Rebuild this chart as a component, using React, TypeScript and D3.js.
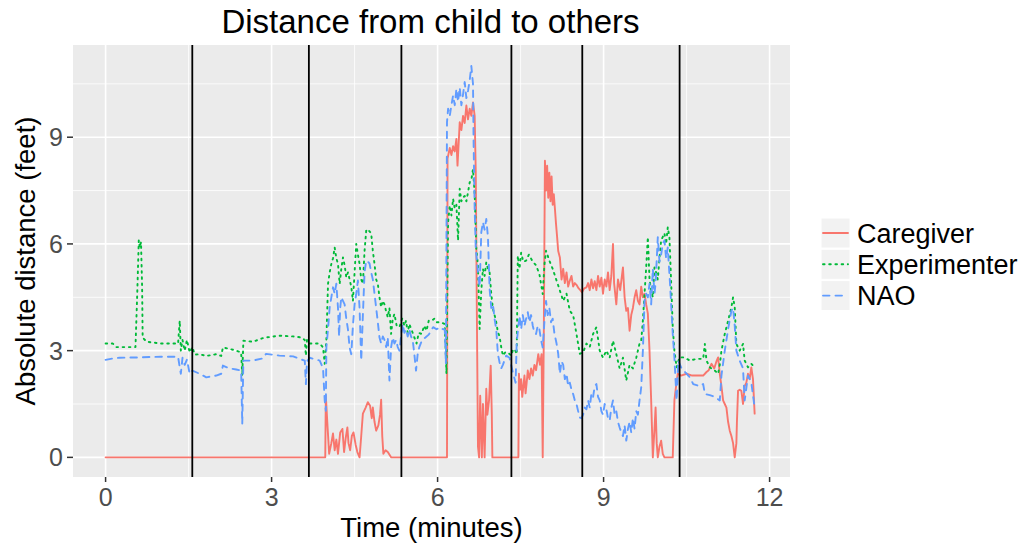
import React from "react";
import * as d3 from "d3";

// ---- data (time in minutes, distance in feet) ----
const caregiver: [number, number][] = [
  [0,0],[3.97,0],[3.98,1.73],[4.01,0.9],[4.04,0.1],[4.08,0.4],[4.11,0.67],[4.14,0.2],[4.17,0.5],[4.20,0.1],[4.24,0.7],[4.28,0.8],[4.31,0.15],[4.34,0.55],[4.37,0.84],[4.39,0.4],[4.42,0.2],[4.45,0.6],[4.48,0.7],[4.52,0.35],[4.55,0.15],[4.59,0.0],[4.62,0.6],[4.65,1.23],[4.70,1.4],[4.74,1.55],[4.78,1.45],[4.81,1.1],[4.83,1.4],[4.86,1.0],[4.89,0.75],[4.93,0.9],[4.96,1.2],[4.98,1.62],[5.00,0.6],[5.02,0.1],[5.06,0.2],[5.10,0.15],[5.16,0.0],
  [6.17,0],[6.18,8.4],[6.22,8.7],[6.25,8.5],[6.28,8.75],[6.31,8.6],[6.34,8.95],[6.36,8.2],[6.38,8.8],[6.40,9.42],[6.43,9.2],[6.46,9.6],[6.49,9.4],[6.52,9.89],[6.55,9.5],[6.58,9.8],[6.61,9.6],[6.64,9.98],[6.67,9.6],[6.69,8.0],[6.71,4.0],[6.73,0.3],[6.75,0],[6.77,1.73],[6.80,0],[6.82,1.5],[6.85,0],[6.88,1.93],[6.90,1.2],[6.93,1.6],[6.96,2.58],[6.98,1.2],[6.99,0],
  [7.46,0],[7.47,2.35],[7.49,1.9],[7.51,2.2],[7.53,1.7],[7.55,2.0],[7.57,2.3],[7.59,1.8],[7.61,2.1],[7.63,2.44],[7.66,2.2],[7.69,2.5],[7.72,2.3],[7.75,2.6],[7.78,2.45],[7.82,2.9],[7.85,2.6],[7.88,2.9],[7.90,0.0],[7.92,3.5],[7.94,8.34],[7.96,7.5],[7.98,8.2],[8.00,7.3],[8.02,8.0],[8.04,7.2],[8.06,7.9],[8.08,7.1],[8.10,7.4],[8.12,7.0],[8.14,6.57],[8.16,6.2],[8.18,5.8],[8.21,5.62],[8.24,5.0],[8.27,5.3],[8.30,4.9],[8.33,5.2],[8.36,4.8],[8.39,4.97],[8.42,5.1],[8.45,4.8],[8.48,4.9],[8.51,4.85],[8.55,4.75],[8.58,4.7],[8.61,4.64],[8.65,4.75],[8.69,4.78],[8.72,4.9],[8.75,4.7],[8.78,5.0],[8.81,4.75],[8.84,4.95],[8.87,4.7],[8.90,5.1],[8.93,4.8],[8.96,5.05],[8.99,4.6],[9.02,5.0],[9.05,4.8],[9.08,5.2],[9.11,4.7],[9.14,5.1],[9.17,6.0],[9.19,4.9],[9.23,4.3],[9.26,5.0],[9.30,4.7],[9.35,5.34],[9.38,4.5],[9.41,4.12],[9.44,4.2],[9.47,3.56],[9.50,4.0],[9.53,4.2],[9.56,4.5],[9.59,4.7],[9.62,4.4],[9.65,4.3],[9.68,4.8],[9.71,4.5],[9.74,4.6],[9.77,4.3],[9.80,4.04],[9.83,3.0],[9.86,1.6],[9.89,0],[9.92,0.8],[9.94,1.4],[9.96,0.4],[9.98,0],[10.01,0.3],[10.04,0.47],[10.07,0.1],[10.10,0],
  [10.25,0],[10.28,1.6],[10.31,2.0],[10.34,2.35],[10.40,2.3],[10.50,2.35],[10.60,2.3],[10.70,2.3],[10.80,2.3],[10.86,2.4],[10.90,2.45],[10.95,2.63],[11.00,2.5],[11.04,2.7],[11.07,2.81],[11.10,2.35],[11.13,2.0],[11.16,1.6],[11.19,1.5],[11.22,1.4],[11.25,1.0],[11.28,0.75],[11.31,0.6],[11.34,0.4],[11.37,0],[11.40,0.4],[11.41,1.0],[11.43,1.87],[11.46,1.9],[11.49,1.87],[11.52,1.5],[11.55,2.0],[11.58,2.1],[11.61,2.35],[11.64,2.2],[11.67,2.53],[11.70,2.2],[11.73,1.23],
];

const experimenter: [number, number][] = [
  [0,3.2],[0.13,3.2],[0.19,3.1],[0.35,3.1],[0.54,3.1],[0.57,4.5],[0.60,6.1],[0.62,5.9],[0.64,6.05],[0.66,4.8],[0.67,3.37],[0.74,3.25],[1.0,3.2],[1.31,3.2],[1.34,3.84],[1.36,3.0],[1.39,3.3],[1.43,3.0],[1.47,3.3],[1.52,2.95],[1.57,3.1],[1.61,2.89],[1.70,2.9],[1.82,2.85],[2.00,2.9],[2.09,2.85],[2.12,3.09],[2.24,3.05],[2.36,3.0],[2.45,2.95],[2.47,2.3],[2.49,3.28],[2.66,3.25],[2.84,3.35],[2.90,3.37],[3.14,3.42],[3.39,3.4],[3.54,3.37],[3.60,3.3],[3.62,2.86],[3.64,3.3],[3.69,3.2],[3.87,3.2],[3.93,3.09],[3.96,2.63],[3.99,3.3],
  [4.02,4.88],[4.05,5.2],[4.08,5.44],[4.11,5.6],[4.14,5.9],[4.17,5.6],[4.20,5.44],[4.23,4.88],[4.26,5.3],[4.29,5.62],[4.32,5.4],[4.35,5.06],[4.38,5.2],[4.41,5.0],[4.44,4.8],[4.47,4.4],[4.50,5.2],[4.53,6.0],[4.56,5.7],[4.59,5.44],[4.62,5.0],[4.65,4.88],[4.68,5.8],[4.71,6.37],[4.74,6.42],[4.77,6.35],[4.80,6.3],[4.83,5.8],[4.86,5.44],[4.89,5.0],[4.92,4.88],[4.95,4.5],[4.98,4.22],[5.01,4.4],[5.04,4.3],[5.07,4.1],[5.10,3.94],[5.13,4.2],[5.16,3.47],[5.19,3.9],[5.22,4.03],[5.26,3.7],[5.31,3.66],[5.36,3.9],[5.40,3.7],[5.43,3.84],[5.46,3.5],[5.49,3.75],[5.55,3.5],[5.62,3.2],[5.66,3.5],[5.71,3.47],[5.76,3.7],[5.80,3.56],[5.84,3.84],[5.89,3.84],[5.94,3.9],[5.98,3.8],[6.05,3.8],[6.13,3.75],[6.16,2.35],
  [6.19,6.61],[6.22,7.08],[6.25,6.8],[6.28,7.27],[6.31,7.0],[6.34,7.1],[6.37,6.1],[6.40,7.55],[6.43,7.2],[6.46,7.3],[6.49,7.35],[6.52,7.2],[6.55,7.45],[6.58,7.73],[6.61,7.8],[6.64,8.1],[6.67,7.4],[6.70,5.86],[6.73,5.4],[6.76,3.61],[6.79,4.7],[6.82,5.3],[6.85,5.1],[6.88,5.48],[6.91,5.3],[6.94,5.2],[6.97,4.6],[7.00,4.17],[7.03,4.0],[7.06,3.8],[7.09,3.52],[7.12,3.4],[7.15,3.1],[7.18,2.86],[7.22,2.95],[7.27,2.95],[7.33,2.86],[7.36,3.0],[7.39,3.05],[7.43,2.9],
  [7.45,5.67],[7.48,5.3],[7.51,5.75],[7.55,5.5],[7.60,5.53],[7.65,5.7],[7.72,5.5],[7.78,5.4],[7.84,5.15],[7.90,4.59],[7.93,5.4],[7.96,5.81],[8.02,5.53],[8.08,5.3],[8.15,4.97],[8.21,4.69],[8.27,4.4],[8.33,4.6],[8.39,4.12],[8.45,4.0],[8.51,3.47],[8.57,2.91],[8.63,2.95],[8.69,3.2],[8.75,3.1],[8.81,3.47],[8.87,3.66],[8.93,3.0],[8.99,2.8],[9.05,3.0],[9.11,2.8],[9.17,3.28],[9.23,2.9],[9.29,2.5],[9.35,2.8],[9.41,2.16],[9.47,2.6],[9.53,2.5],[9.59,2.8],[9.65,3.2],[9.68,3.28],[9.71,3.84],[9.74,4.6],[9.77,5.34],[9.80,6.19],[9.83,5.0],[9.86,4.7],[9.89,4.5],[9.92,5.34],[9.95,5.2],[9.98,5.0],[10.01,5.6],[10.04,6.1],[10.07,6.2],[10.10,6.3],[10.13,6.0],[10.16,6.47],[10.19,6.19],[10.22,4.97],[10.25,3.66],[10.28,3.0],[10.32,2.53],
  [10.37,2.81],[10.46,2.81],[10.56,2.72],[10.68,2.77],[10.80,2.77],[10.83,3.19],[10.86,2.72],[10.92,2.53],[11.01,2.44],[11.07,2.35],[11.10,2.6],[11.13,3.0],[11.19,3.47],[11.25,3.84],[11.31,4.22],[11.34,4.5],[11.37,4.22],[11.40,3.19],[11.46,3.0],[11.52,3.19],[11.55,2.72],[11.61,2.53],[11.67,2.63],[11.73,2.53],
];

const nao: [number, number][] = [
  [0,2.74],[0.13,2.78],[0.25,2.8],[0.6,2.81],[1.0,2.83],[1.31,2.83],[1.34,2.53],[1.36,2.35],[1.39,2.8],[1.43,2.6],[1.47,2.75],[1.52,2.35],[1.57,2.44],[1.70,2.35],[1.82,2.25],[2.00,2.3],[2.09,2.35],[2.12,2.58],[2.24,2.5],[2.36,2.47],[2.45,2.44],[2.47,0.94],[2.49,2.72],[2.66,2.72],[2.84,2.78],[2.90,2.91],[3.14,2.86],[3.39,2.84],[3.54,2.75],[3.60,2.72],[3.62,2.06],[3.64,2.7],[3.69,2.8],[3.87,2.72],[3.93,2.5],[3.96,1.6],[3.98,1.31],
  [3.99,3.09],[4.02,3.6],[4.05,4.22],[4.08,4.5],[4.11,4.78],[4.14,4.6],[4.17,4.88],[4.20,4.2],[4.22,3.4],[4.24,4.2],[4.26,4.5],[4.29,4.4],[4.32,4.3],[4.35,3.9],[4.38,3.6],[4.41,3.09],[4.44,2.9],[4.47,3.7],[4.50,4.3],[4.53,4.6],[4.56,4.97],[4.59,4.2],[4.62,2.72],[4.65,4.0],[4.68,5.2],[4.71,5.53],[4.74,5.5],[4.77,5.45],[4.80,5.2],[4.83,5.0],[4.86,4.6],[4.89,4.2],[4.92,3.8],[4.95,3.37],[4.98,3.2],[5.01,3.4],[5.04,3.3],[5.07,3.1],[5.10,3.37],[5.13,2.16],[5.16,3.1],[5.19,3.37],[5.22,3.2],[5.25,3.3],[5.28,3.1],[5.31,3.0],[5.34,3.4],[5.37,3.75],[5.40,3.5],[5.43,3.6],[5.46,3.4],[5.49,3.6],[5.52,3.4],[5.55,3.3],[5.58,2.9],[5.61,2.44],[5.64,2.9],[5.67,3.1],[5.72,3.3],[5.78,3.37],[5.84,3.45],[5.92,3.66],[5.98,3.6],[6.04,3.66],[6.10,3.6],[6.13,3.6],[6.15,2.63],
  [6.17,9.42],[6.19,9.8],[6.22,9.6],[6.25,9.9],[6.28,10.17],[6.31,9.9],[6.34,10.36],[6.37,10.0],[6.40,10.4],[6.43,9.9],[6.46,10.2],[6.49,10.55],[6.52,10.1],[6.55,10.3],[6.58,10.6],[6.61,11.0],[6.64,10.5],[6.65,8.95],[6.67,7.0],[6.69,5.86],[6.73,5.2],[6.76,4.8],[6.79,6.33],[6.82,6.61],[6.85,6.4],[6.88,6.7],[6.91,6.2],[6.94,4.74],[6.97,4.2],[7.00,4.3],[7.03,3.89],[7.06,3.6],[7.09,2.9],[7.12,2.67],[7.15,2.5],[7.18,2.6],[7.24,2.86],[7.30,2.8],[7.36,2.39],[7.41,2.1],
  [7.43,3.23],[7.48,3.98],[7.51,3.6],[7.54,4.0],[7.57,3.7],[7.60,3.9],[7.63,4.08],[7.66,3.8],[7.69,4.0],[7.72,3.7],[7.75,3.5],[7.78,3.47],[7.81,3.7],[7.84,3.6],[7.87,3.3],[7.90,3.09],[7.93,3.8],[7.96,4.4],[7.99,4.0],[8.02,4.2],[8.05,3.8],[8.08,3.9],[8.11,3.5],[8.15,3.2],[8.18,2.91],[8.21,2.35],[8.24,2.7],[8.27,2.6],[8.30,2.2],[8.33,2.35],[8.36,2.0],[8.39,2.1],[8.42,1.9],[8.45,1.78],[8.48,1.6],[8.51,1.5],[8.54,1.3],[8.57,1.12],[8.60,1.1],[8.63,1.2],[8.66,1.4],[8.69,1.35],[8.72,1.6],[8.75,1.4],[8.78,1.8],[8.81,1.7],[8.84,2.0],[8.87,2.06],[8.90,1.7],[8.93,1.6],[8.96,1.3],[8.99,1.2],[9.02,1.5],[9.05,1.35],[9.08,1.1],[9.11,1.03],[9.14,1.4],[9.17,1.6],[9.20,1.2],[9.23,1.3],[9.26,1.0],[9.29,0.84],[9.32,0.7],[9.35,0.6],[9.38,0.9],[9.41,0.47],[9.44,0.8],[9.47,1.0],[9.50,0.7],[9.53,1.1],[9.56,0.8],[9.59,1.3],[9.62,1.2],[9.65,1.6],[9.68,1.97],
  [9.71,3.0],[9.74,4.4],[9.77,4.6],[9.80,4.5],[9.83,4.88],[9.86,4.3],[9.89,5.3],[9.92,4.6],[9.94,4.9],[9.98,6.19],[10.01,5.5],[10.04,5.7],[10.07,6.0],[10.10,6.1],[10.13,5.6],[10.16,5.9],[10.20,4.9],[10.25,3.47],[10.28,2.8],[10.32,1.6],[10.35,2.72],[10.41,2.5],[10.50,2.35],[10.56,2.25],[10.62,2.06],[10.74,2.0],[10.80,2.06],[10.83,1.78],[10.92,1.75],[11.01,1.7],[11.10,1.6],[11.13,2.3],[11.19,3.0],[11.25,3.6],[11.31,4.12],[11.34,4.2],[11.37,3.7],[11.40,3.0],[11.46,2.72],[11.52,2.5],[11.55,1.6],[11.61,2.3],[11.67,2.1],[11.73,1.4],
];

const seriesNames = ["Caregiver", "Experimenter", "NAO"];
const seriesColors = ["#F8766D", "#00BA38", "#619CFF"];
const seriesDash = ["", "1.6 4.6", "6.5 6"];
const phaseBoundaries = [1.567, 3.674, 5.346, 7.334, 8.615, 10.374];
const xTicks = [0, 3, 6, 9, 12];
const yTicks = [0, 3, 6, 9];
const xLimits = [0, 11.78];
const yLimits = [0, 11.04];

const W = 1025, H = 545;
const P = { left: 73, right: 790, top: 45, bottom: 477 };
const FONT = "'Liberation Sans', Arial, Helvetica, sans-serif";

function expand(l: number[]) {
  const d = (l[1] - l[0]) * 0.05;
  return [l[0] - d, l[1] + d];
}

export default function App() {
  const x = d3.scaleLinear().domain(expand(xLimits)).range([P.left, P.right]);
  const y = d3.scaleLinear().domain(expand(yLimits)).range([P.bottom, P.top]);
  const line = d3.line<[number, number]>().x((d) => x(d[0])).y((d) => y(d[1]));
  const data = [caregiver, experimenter, nao];

  const xMinor = xTicks.slice(0, -1).map((t, i) => (t + xTicks[i + 1]) / 2).filter((t) => x(t) < P.right);
  const yMinor = yTicks.map((t) => t + 1.5).filter((t) => y(t) > P.top);

  const midY = (P.top + P.bottom) / 2;
  const keyH = 31.3;
  const legendTop = 218;

  return (
    <svg width={W} height={H} style={{ position: "absolute", left: 0, top: 0, background: "#fff" }} fontFamily={FONT}>
      <rect x={P.left} y={P.top} width={P.right - P.left} height={P.bottom - P.top} fill="#EBEBEB" />
      {xMinor.map((t) => (
        <line key={"xm" + t} x1={x(t)} x2={x(t)} y1={P.top} y2={P.bottom} stroke="#fff" strokeWidth={0.8} />
      ))}
      {yMinor.map((t) => (
        <line key={"ym" + t} x1={P.left} x2={P.right} y1={y(t)} y2={y(t)} stroke="#fff" strokeWidth={0.8} />
      ))}
      {xTicks.map((t) => (
        <line key={"xg" + t} x1={x(t)} x2={x(t)} y1={P.top} y2={P.bottom} stroke="#fff" strokeWidth={1.6} />
      ))}
      {yTicks.map((t) => (
        <line key={"yg" + t} x1={P.left} x2={P.right} y1={y(t)} y2={y(t)} stroke="#fff" strokeWidth={1.6} />
      ))}
      <g clipPath="url(#clip)">
        {data.map((d, i) => (
          <path key={i} d={line(d) || ""} fill="none" stroke={seriesColors[i]} strokeWidth={1.9}
            strokeDasharray={seriesDash[i] || undefined} strokeLinecap="round" strokeLinejoin="round" />
        ))}
        {phaseBoundaries.map((b) => (
          <line key={"v" + b} x1={x(b)} x2={x(b)} y1={P.top} y2={P.bottom} stroke="#000" strokeWidth={1.8} />
        ))}
      </g>
      <defs>
        <clipPath id="clip">
          <rect x={P.left} y={P.top} width={P.right - P.left} height={P.bottom - P.top} />
        </clipPath>
      </defs>
      {xTicks.map((t) => (
        <g key={"xt" + t}>
          <line x1={x(t)} x2={x(t)} y1={P.bottom} y2={P.bottom + 5} stroke="#333" strokeWidth={1.5} />
          <text x={x(t)} y={506} textAnchor="middle" fontSize={25} fill="#4D4D4D">{t}</text>
        </g>
      ))}
      {yTicks.map((t) => (
        <g key={"yt" + t}>
          <line x1={P.left - 6} x2={P.left} y1={y(t)} y2={y(t)} stroke="#333" strokeWidth={1.5} />
          <text x={63} y={y(t) + 9} textAnchor="end" fontSize={25} fill="#4D4D4D">{t}</text>
        </g>
      ))}
      <text x={(P.left + P.right) / 2 - 1} y={33} textAnchor="middle" fontSize={33} fill="#000">Distance from child to others</text>
      <text x={(P.left + P.right) / 2} y={537} textAnchor="middle" fontSize={27.5} fill="#000">Time (minutes)</text>
      <text transform={`translate(35,${midY}) rotate(-90)`} textAnchor="middle" fontSize={27.5} fill="#000">Absolute distance (feet)</text>
      {seriesNames.map((n, i) => {
        const ky = legendTop + i * keyH;
        return (
          <g key={n}>
            <rect x={821} y={ky} width={29} height={keyH - 1.3} fill="#F2F2F2" stroke="#fff" strokeWidth={1} />
            <line x1={823} x2={848} y1={ky + (keyH - 1.3) / 2} y2={ky + (keyH - 1.3) / 2} stroke={seriesColors[i]} strokeWidth={1.9}
              strokeDasharray={seriesDash[i] || undefined} strokeLinecap="round" />
            <text x={857} y={ky + (keyH - 1.3) / 2 + 9.5} fontSize={27} fill="#000">{n}</text>
          </g>
        );
      })}
    </svg>
  );
}
